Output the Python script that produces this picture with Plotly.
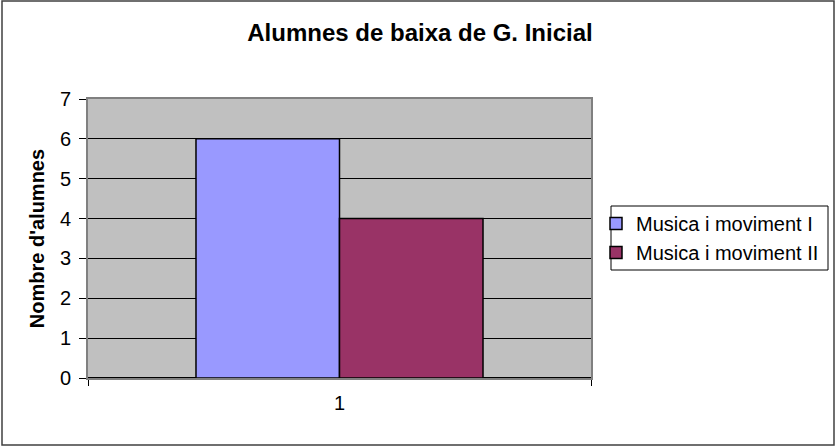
import plotly.graph_objects as go

categories = ["1"]
series_names = ["Musica i moviment I", "Musica i moviment II"]
series_values = [[6], [4]]
series_colors = ["#9999FF", "#993366"]
y_ticks = [0, 1, 2, 3, 4, 5, 6, 7]

W, H = 836, 447
L, R, T, B = 88, 591, 99, 378
pw, ph = R - L, B - T

fig = go.Figure()
for name, vals, col in zip(series_names, series_values, series_colors):
    fig.add_trace(go.Bar(x=categories, y=vals, name=name,
                         marker=dict(color=col, line=dict(color="black", width=1.5))))

def px(x):
    return (x - L) / pw

def py(y):
    return (B - y) / ph

fig.update_layout(
    width=W, height=H,
    margin=dict(l=L, r=W - R, t=T, b=H - B, autoexpand=False),
    paper_bgcolor="white", plot_bgcolor="#C0C0C0",
    font=dict(family="Liberation Sans, Arial, sans-serif", size=20, color="black"),
    title=dict(text="<b>Alumnes de baixa de G. Inicial</b>", x=420 / W, xref="container",
               y=1 - 33 / H, yref="container", yanchor="middle", xanchor="center",
               font=dict(size=24, color="black")),
    barmode="group", bargap=0.4294, bargroupgap=0,
    showlegend=True,
    legend=dict(x=px(596), y=py(204), xanchor="left", yanchor="top",
                borderwidth=0, bgcolor="rgba(0,0,0,0)",
                font=dict(size=20), tracegroupgap=0, itemwidth=30),
    xaxis=dict(type="category", tickson="boundaries", ticks="outside", ticklen=6,
               tickcolor="black", showline=True, linecolor="#808080", linewidth=2,
               mirror=True, showgrid=False, tickfont=dict(size=20),
               ticklabelstandoff=6),
    yaxis=dict(range=[0, 7], tickvals=y_ticks, ticks="outside", ticklen=7,
               tickcolor="black", showline=True, linecolor="#808080", linewidth=2,
               mirror=True, showgrid=True, gridcolor="black", gridwidth=1,
               zeroline=True, zerolinecolor="black", zerolinewidth=2,
               ticklabelstandoff=4,
               title=dict(text="<b>Nombre d'alumnes</b>", font=dict(size=20), standoff=10),
               tickfont=dict(size=20)),
    shapes=[dict(type="rect", xref="paper", yref="paper",
                 x0=px(2), x1=px(834), y0=py(445), y1=py(1),
                 line=dict(color="#404040", width=1.5), layer="below"),
            dict(type="rect", xref="paper", yref="paper",
                 x0=px(611), x1=px(828), y0=py(270), y1=py(206),
                 line=dict(color="black", width=1), layer="below")],
)

fig.write_html("out.html", config={"displayModeBar": False},
               post_script="document.body.style.margin='0';document.body.style.overflow='hidden';")
